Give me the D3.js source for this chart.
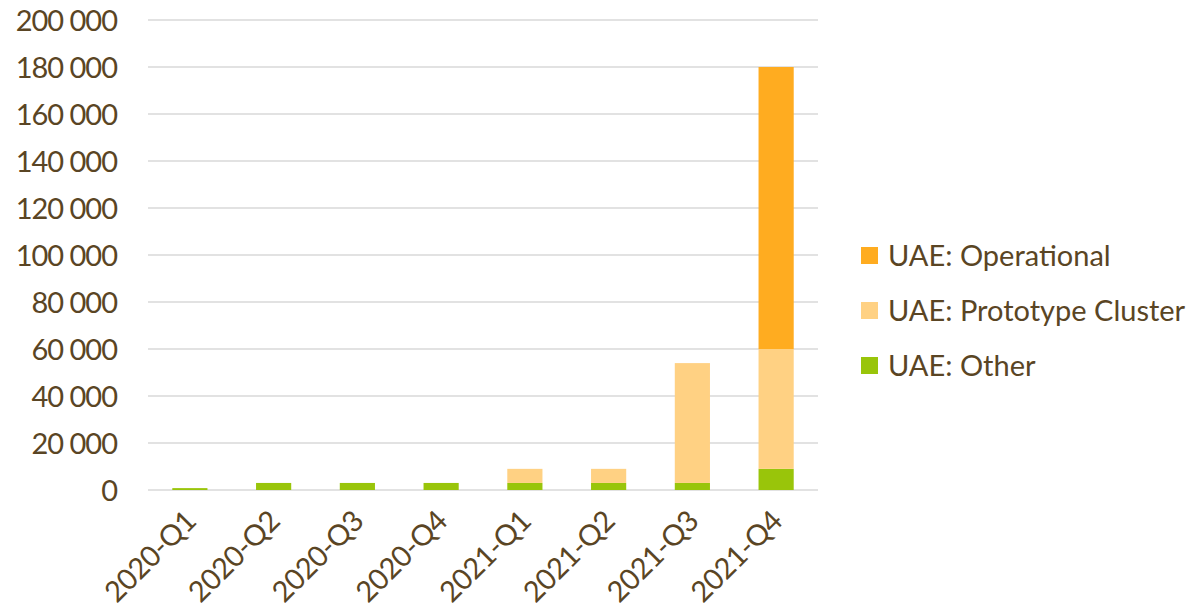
<!DOCTYPE html>
<html><head><meta charset="utf-8">
<script src="https://cdn.jsdelivr.net/npm/d3@7"></script>
<style>
body{margin:0;background:#fff;}
text{font-family:Lato, "Open Sans", sans-serif;fill:#5A4524;}
</style></head>
<body>
<svg id="chart" width="1186" height="612"></svg>
<script>
const categories = ["2020-Q1","2020-Q2","2020-Q3","2020-Q4","2021-Q1","2021-Q2","2021-Q3","2021-Q4"];
const other = [800, 3000, 3000, 3000, 3000, 3000, 3000, 9000];
const prototype = [0, 0, 0, 0, 6000, 6000, 51000, 51000];
const operational = [0, 0, 0, 0, 0, 0, 0, 120000];
const seriesNames = ["UAE: Other","UAE: Prototype Cluster","UAE: Operational"];
const seriesColors = ["#99C50A","#FFD183","#FFAC20"];
const yTicks = [0,20000,40000,60000,80000,100000,120000,140000,160000,180000,200000];

const rows = categories.map((c,i)=>({cat:c, other:other[i], prototype:prototype[i], operational:operational[i]}));
const keys = ["other","prototype","operational"];

const svg = d3.select("#chart");
const m = {left:148, right:818, top:20, bottom:490};
const x = d3.scaleBand().domain(categories).range([m.left,m.right]).paddingInner(0.58).paddingOuter(0.29);
const y = d3.scaleLinear().domain([0,200000]).range([m.bottom,m.top]);
const fmt = v => d3.format(",")(v).replace(/,/g," ");

// gridlines
svg.append("g").selectAll("line").data(yTicks).join("line")
  .attr("x1",m.left).attr("x2",m.right)
  .attr("y1",d=>y(d)).attr("y2",d=>y(d))
  .attr("stroke","#D9D9D9").attr("stroke-width",1.5);

// y axis labels
const yAxis = d3.axisLeft(y).tickValues(yTicks).tickFormat(fmt).tickSize(0).tickPadding(31);
const ya = svg.append("g").attr("transform",`translate(${m.left},0)`).call(yAxis);
ya.select(".domain").remove();
ya.selectAll("text").style("font-size","29px").style("letter-spacing","-1px").attr("fill","#5A4524").attr("dy","0.35em");

// stacked bars
const stack = d3.stack().keys(keys)(rows);
svg.append("g").selectAll("g").data(stack).join("g")
  .attr("fill",(d,i)=>seriesColors[i])
  .selectAll("rect").data(d=>d).join("rect")
  .attr("x",d=>x(d.data.cat)).attr("width",x.bandwidth())
  .attr("y",d=>y(d[1])).attr("height",d=>Math.max(0,y(d[0])-y(d[1])));

// x axis labels
const xAxis = d3.axisBottom(x).tickSize(0).tickPadding(0);
const xa = svg.append("g").attr("transform",`translate(0,${m.bottom})`).call(xAxis);
xa.select(".domain").remove();
xa.selectAll("text").style("font-size","29px").style("letter-spacing","-0.5px").attr("fill","#5A4524")
  .attr("text-anchor","end").attr("dy",null).attr("y",0)
  .attr("transform","translate(8,33) rotate(-45)");

// legend
const legendOrder = [2,1,0];
const lg = svg.append("g").attr("transform","translate(861,256)");
legendOrder.forEach((si,k)=>{
  const g = lg.append("g").attr("transform",`translate(0,${k*55})`);
  g.append("rect").attr("x",0).attr("y",-9).attr("width",17).attr("height",17).attr("fill",seriesColors[si]);
  g.append("text").attr("x",27).attr("y",0).attr("dy","0.35em").style("font-size","29px").text(seriesNames[si]);
});
</script>
</body></html>
